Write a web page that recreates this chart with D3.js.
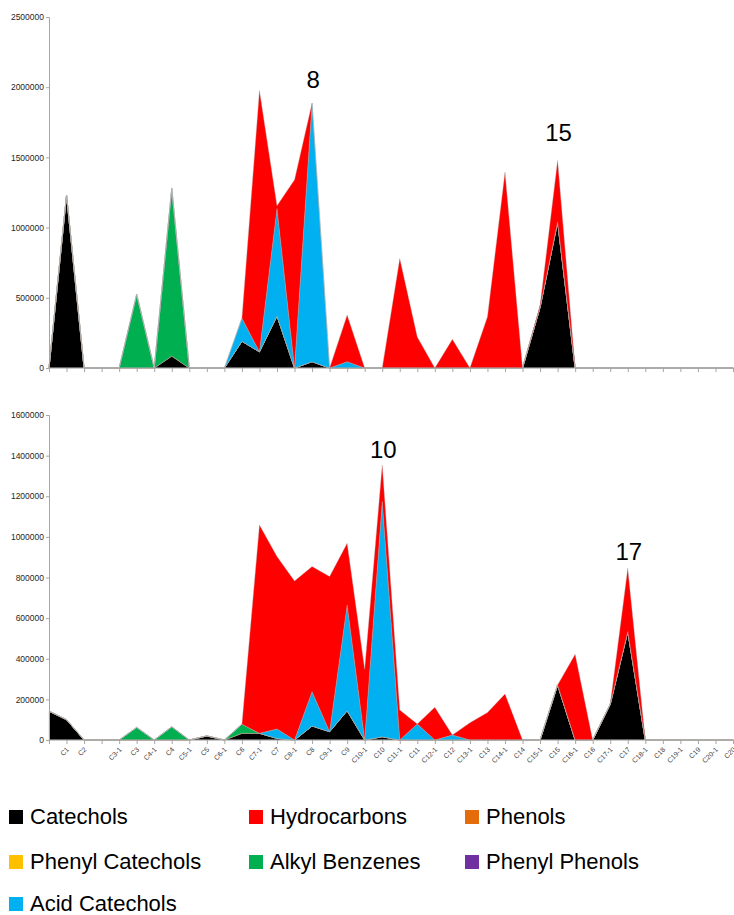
<!DOCTYPE html>
<html>
<head>
<meta charset="utf-8">
<script src="https://cdn.jsdelivr.net/npm/d3@7"></script>
<style>
  body { margin: 0; background: #fff; }
  svg { display: block; font-family: "Liberation Sans", Arial, sans-serif; }
</style>
</head>
<body>
<div id="chart"></div>
<script>
// categories (blank entries have no label on the axis)
const categories = ["", "C1", "C2", "", "C3-1", "C3", "C4-1", "C4", "C5-1", "C5",
  "C6-1", "C6", "C7-1", "C7", "C8-1", "C8", "C9-1", "C9", "C10-1", "C10",
  "C11-1", "C11", "C12-1", "C12", "C13-1", "C13", "C14-1", "C14", "C15-1", "C15",
  "C16-1", "C16", "C17-1", "C17", "C18-1", "C18", "C19-1", "C19", "C20-1", "C20"];

const seriesNames = ["Catechols", "Hydrocarbons", "Phenols", "Phenyl Catechols",
  "Alkyl Benzenes", "Phenyl Phenols", "Acid Catechols"];

// top chart
const topCatechols = [0,1230000,0,0,0,0,0,85000,0,0, 0,190000,115000,370000,0,45000,0,0,0,0, 0,0,0,0,0,0,0,0,432000,1041000, 0,0,0,0,0,0,0,0,0,0];
const topHydrocarbons = [0,0,0,0,0,0,0,0,0,0, 0,0,1862000,20000,1340000,0,0,332000,0,0, 780000,220000,0,204000,0,365000,1396000,0,15000,438000, 0,0,0,0,0,0,0,0,0,0];
const topPhenols = [0,0,0,0,0,0,0,0,0,0, 0,0,0,0,0,0,0,0,0,0, 0,0,0,0,0,0,0,0,0,0, 0,0,0,0,0,0,0,0,0,0];
const topPhenylCatechols = [0,0,0,0,0,0,0,0,0,0, 0,0,0,0,0,0,0,0,0,0, 0,0,0,0,0,0,0,0,0,0, 0,0,0,0,0,0,0,0,0,0];
const topAlkylBenzenes = [0,0,0,0,0,525000,0,1195000,0,0, 0,0,0,0,0,0,0,0,0,0, 0,0,0,0,0,0,0,0,0,0, 0,0,0,0,0,0,0,0,0,0];
const topPhenylPhenols = [0,0,0,0,0,0,0,0,0,0, 0,0,0,0,0,0,0,0,0,0, 0,0,0,0,0,0,0,0,0,0, 0,0,0,0,0,0,0,0,0,0];
const topAcidCatechols = [0,0,0,0,0,0,0,0,0,0, 0,165000,0,766000,0,1842000,0,45000,0,0, 0,0,0,0,0,0,0,0,0,0, 0,0,0,0,0,0,0,0,0,0];

// bottom chart
const botCatechols = [142000,100000,0,0,0,0,0,0,0,20000, 0,33000,33000,8000,0,69000,41000,144000,0,16000, 0,0,0,0,0,0,0,0,0,271000, 0,0,176000,534000,0,0,0,0,0,0];
const botHydrocarbons = [0,0,0,0,0,0,0,0,0,0, 0,0,1026000,849000,783000,616000,764000,304000,348000,181000, 148000,0,161000,0,85000,135000,227000,0,0,0, 422000,0,0,312000,0,0,0,0,0,0];
const botPhenols = [0,0,0,0,0,0,0,0,0,0, 0,0,0,0,0,0,0,0,0,0, 0,0,0,0,0,0,0,0,0,0, 0,0,0,0,0,0,0,0,0,0];
const botPhenylCatechols = [0,0,0,0,0,0,0,0,0,0, 0,0,0,0,0,0,0,0,0,0, 0,0,0,0,0,0,0,0,0,0, 0,0,0,0,0,0,0,0,0,0];
const botAlkylBenzenes = [0,0,0,0,0,62000,0,65000,0,0, 0,45000,0,0,0,0,0,0,0,0, 0,0,0,0,0,0,0,0,0,0, 0,0,0,0,0,0,0,0,0,0];
const botPhenylPhenols = [0,0,0,0,0,0,0,0,0,0, 0,0,0,0,0,0,0,0,0,0, 0,0,0,0,0,0,0,0,0,0, 0,0,0,0,0,0,0,0,0,0];
const botAcidCatechols = [0,0,0,0,0,0,0,0,0,0, 0,0,0,46000,0,169000,0,521000,0,1158000, 0,79000,0,25000,0,0,0,0,0,0, 0,0,0,0,0,0,0,0,0,0];

const topTicks = [0, 500000, 1000000, 1500000, 2000000, 2500000];
const botTicks = [0, 200000, 400000, 600000, 800000, 1000000, 1200000, 1400000, 1600000];

const colors = {
  "Catechols": "#000000",
  "Hydrocarbons": "#FF0000",
  "Phenols": "#E46C0A",
  "Phenyl Catechols": "#FFC000",
  "Alkyl Benzenes": "#00B050",
  "Phenyl Phenols": "#7030A0",
  "Acid Catechols": "#00B0F0"
};

// stacking order, bottom to top
const stackOrder = ["Catechols", "Phenols", "Phenyl Catechols", "Alkyl Benzenes",
  "Phenyl Phenols", "Acid Catechols", "Hydrocarbons"];

const width = 734, height = 915;
const svg = d3.select("#chart").append("svg")
  .attr("width", width)
  .attr("height", height);

const x = d3.scalePoint().domain(d3.range(categories.length)).range([49, 733]);

function buildRows(s) {
  return categories.map((c, i) => {
    const row = { i: i };
    seriesNames.forEach(n => row[n] = s[n][i]);
    return row;
  });
}

function drawPanel(rows, yMax, ticks, top, bottom, showLabels) {
  const y = d3.scaleLinear().domain([0, yMax]).range([bottom, top]);
  const g = svg.append("g");

  const stacked = d3.stack().keys(stackOrder)(rows);
  const area = d3.area()
    .x(d => x(d.data.i))
    .y0(d => y(d[0]))
    .y1(d => y(d[1]));

  g.selectAll("path.layer")
    .data(stacked)
    .join("path")
    .attr("class", "layer")
    .attr("d", area)
    .attr("fill", d => colors[d.key])
    .attr("stroke", d => d.key == "Phenols" ? "#E46C0A" : "#b0b0b0")
    .attr("stroke-opacity", d => d.key == "Phenols" ? 0.7 : 0.6)
    .attr("stroke-width", 0.6);

  // y axis
  const yAxis = d3.axisLeft(y).tickValues(ticks).tickSize(3).tickFormat(d3.format("d"));
  const ya = g.append("g").attr("transform", "translate(49,0)").call(yAxis);
  ya.select(".domain").attr("stroke", "#a6a6a6");
  ya.selectAll(".tick line").attr("stroke", "#a6a6a6");
  ya.selectAll(".tick text")
    .attr("x", -5)
    .attr("font-size", 8.5)
    .attr("fill", "#262626")
    .attr("font-family", "Liberation Sans, Arial, sans-serif");

  // x axis
  const xAxis = d3.axisBottom(x).tickSize(4).tickSizeOuter(0).tickFormat("");
  const xa = g.append("g").attr("transform", `translate(0,${bottom})`).call(xAxis);
  xa.select(".domain").attr("stroke", "#a6a6a6").attr("d", `M49,0H${width}`);
  xa.selectAll(".tick line").attr("stroke", "#a6a6a6");

  if (showLabels) {
    g.selectAll("text.cat")
      .data(categories.map((c, i) => ({ c, i })).filter(d => d.c != ""))
      .join("text")
      .attr("class", "cat")
      .attr("transform", d => `translate(${x(d.i) + 3},${bottom + 10}) rotate(-45)`)
      .attr("text-anchor", "end")
      .attr("font-size", 7)
      .attr("fill", "#404040")
      .text(d => d.c);
  }
  return y;
}

const topRows = buildRows({
  "Catechols": topCatechols, "Hydrocarbons": topHydrocarbons, "Phenols": topPhenols,
  "Phenyl Catechols": topPhenylCatechols, "Alkyl Benzenes": topAlkylBenzenes,
  "Phenyl Phenols": topPhenylPhenols, "Acid Catechols": topAcidCatechols
});
const botRows = buildRows({
  "Catechols": botCatechols, "Hydrocarbons": botHydrocarbons, "Phenols": botPhenols,
  "Phenyl Catechols": botPhenylCatechols, "Alkyl Benzenes": botAlkylBenzenes,
  "Phenyl Phenols": botPhenylPhenols, "Acid Catechols": botAcidCatechols
});

const yTop = drawPanel(topRows, 2500000, topTicks, 17, 368, false);
const yBot = drawPanel(botRows, 1600000, botTicks, 415, 740, true);

// peak annotations
const peaks = [
  { label: "8", i: 15, y: yTop, total: 1890000, gap: 15 },
  { label: "15", i: 29, y: yTop, total: 1479000, gap: 19 },
  { label: "10", i: 19, y: yBot, total: 1355000, gap: 7 },
  { label: "17", i: 33, y: yBot, total: 846000, gap: 8 }
];
svg.selectAll("text.peak")
  .data(peaks)
  .join("text")
  .attr("class", "peak")
  .attr("x", d => x(d.i) + 1)
  .attr("y", d => d.y(d.total) - d.gap)
  .attr("text-anchor", "middle")
  .attr("font-size", 24)
  .attr("fill", "#000")
  .text(d => d.label);

// legend
const legendCols = [9, 249, 465];
const legendRows = [824, 869, 911];
const legend = svg.append("g").selectAll("g")
  .data(seriesNames)
  .join("g")
  .attr("transform", (d, i) => `translate(${legendCols[i % 3]},${legendRows[Math.floor(i / 3)]})`);
legend.append("rect")
  .attr("x", 0).attr("y", -14)
  .attr("width", 14).attr("height", 14)
  .attr("fill", d => colors[d]);
legend.append("text")
  .attr("x", 21).attr("y", 0)
  .attr("font-size", 22)
  .attr("fill", "#000")
  .text(d => d);
</script>
</body>
</html>
